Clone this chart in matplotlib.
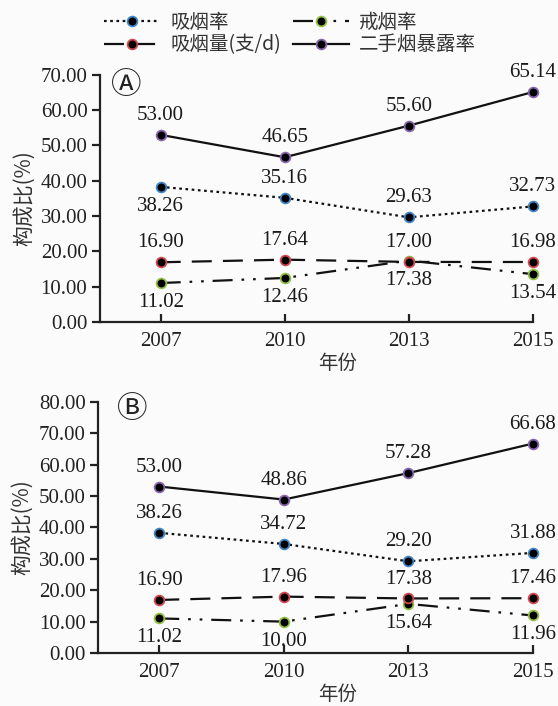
import matplotlib
matplotlib.use("Agg")
import matplotlib.pyplot as plt
from matplotlib.lines import Line2D

plt.rcParams['font.family'] = ['Liberation Serif', 'Noto Sans CJK SC', 'DejaVu Sans']

years = ["2007", "2010", "2013", "2015"]

# panel A
smoke_rate_a = [38.26, 35.16, 29.63, 32.73]
quit_rate_a = [11.02, 12.46, 17.38, 13.54]
daily_amount_a = [16.90, 17.64, 17.00, 16.98]
passive_rate_a = [53.00, 46.65, 55.60, 65.14]

# panel B
smoke_rate_b = [38.26, 34.72, 29.20, 31.88]
quit_rate_b = [11.02, 10.00, 15.64, 11.96]
daily_amount_b = [16.90, 17.96, 17.38, 17.46]
passive_rate_b = [53.00, 48.86, 57.28, 66.68]

names = ["吸烟率", "戒烟率", "吸烟量(支/d)", "二手烟暴露率"]

# line style, marker edge colour per series
styles = {
    "吸烟率": dict(ls=(0, (1.2, 1.6)), lw=1.6, mec="#3f86c8"),
    "戒烟率": dict(ls=(0, (9, 4, 1.2, 4, 1.2, 4)), lw=1.6, mec="#93bf45"),
    "吸烟量(支/d)": dict(ls=(0, (9, 5)), lw=1.6, mec="#d24a4f"),
    "二手烟暴露率": dict(ls="-", lw=1.6, mec="#8766ad"),
}

cjk = ['Noto Sans CJK SC', 'DejaVu Sans']

fig = plt.figure(figsize=(5.58, 7.06), dpi=100, facecolor="#fbfbfb")


def draw_panel(ax, series, sides, ymax, tag, tag_xy):
    x = range(len(years))
    for name, vals, side in zip(names, series, sides):
        st = styles[name]
        ax.plot(x, vals, color="#111111", ls=st["ls"], lw=st["lw"],
                marker="o", ms=7, mfc="black", mec=st["mec"], mew=1.3,
                clip_on=False, zorder=3)
        for i, v in enumerate(vals):
            off = 14 if side[i] > 0 else -14
            ax.annotate(f"{v:.2f}", (i, v), xytext=(0, off), textcoords="offset points",
                        ha="center", va="center", fontsize=15, color="#1a1a1a")
    ax.set_xlim(-0.49, 3)
    ax.set_ylim(0, ymax)
    ax.set_xticks(list(x))
    ax.set_xticklabels(years)
    ax.set_yticks(range(0, ymax + 1, 10))
    ax.set_yticklabels([f"{t:.2f}" for t in range(0, ymax + 1, 10)])
    for s in ("top", "right"):
        ax.spines[s].set_visible(False)
    for s in ("left", "bottom"):
        ax.spines[s].set_linewidth(1.6)
        ax.spines[s].set_color("#222222")
    ax.tick_params(axis="y", direction="out", length=6, width=1.6, pad=3,
                   labelsize=15, colors="#222222")
    ax.tick_params(axis="x", direction="in", length=6, width=1.6, pad=7,
                   labelsize=15, colors="#222222")
    ax.set_facecolor("none")
    ax.set_ylabel("构成比(%)", family=cjk, fontsize=15, color="#333333", labelpad=4)
    ax.set_xlabel("年份", family=cjk, fontsize=14, color="#333333")
    ax.xaxis.set_label_coords(0.55, -0.125)
    ax.text(tag_xy[0], tag_xy[1], tag, transform=ax.transAxes, ha="center", va="center",
            fontsize=22, family=cjk, color="#222222")


# +1 label above the point, -1 below
sides_a = [[-1, 1, 1, 1], [-1, -1, -1, -1], [1, 1, 1, 1], [1, 1, 1, 1]]
sides_b = [[1, 1, 1, 1], [-1, -1, -1, -1], [1, 1, 1, 1], [1, 1, 1, 1]]

ax_a = fig.add_axes([0.179, 0.544, 0.776, 0.350])
draw_panel(ax_a, [smoke_rate_a, quit_rate_a, daily_amount_a, passive_rate_a],
           sides_a, 70, "Ⓐ", (0.06, 0.955))

ax_b = fig.add_axes([0.176, 0.075, 0.779, 0.356])
draw_panel(ax_b, [smoke_rate_b, quit_rate_b, daily_amount_b, passive_rate_b],
           sides_b, 80, "Ⓑ", (0.078, 0.97))

handles = []
for name in names:
    st = styles[name]
    handles.append(Line2D([], [], color="#111111", ls=st["ls"], lw=st["lw"], marker="o",
                          ms=7, mfc="black", mec=st["mec"], mew=1.3))
# column-wise fill: 吸烟率 / 吸烟量 in the first column
order = [0, 2, 1, 3]
fig.legend([handles[i] for i in order], [names[i] for i in order],
           ncol=2, loc="upper left", bbox_to_anchor=(0.162, 1.003),
           frameon=False, prop={"family": cjk, "size": 14},
           handlelength=2.9, handletextpad=0.5, columnspacing=0.6,
           labelspacing=0.1, borderpad=0.2, labelcolor="#333333")

fig.savefig("out.png", dpi=100, facecolor=fig.get_facecolor())
